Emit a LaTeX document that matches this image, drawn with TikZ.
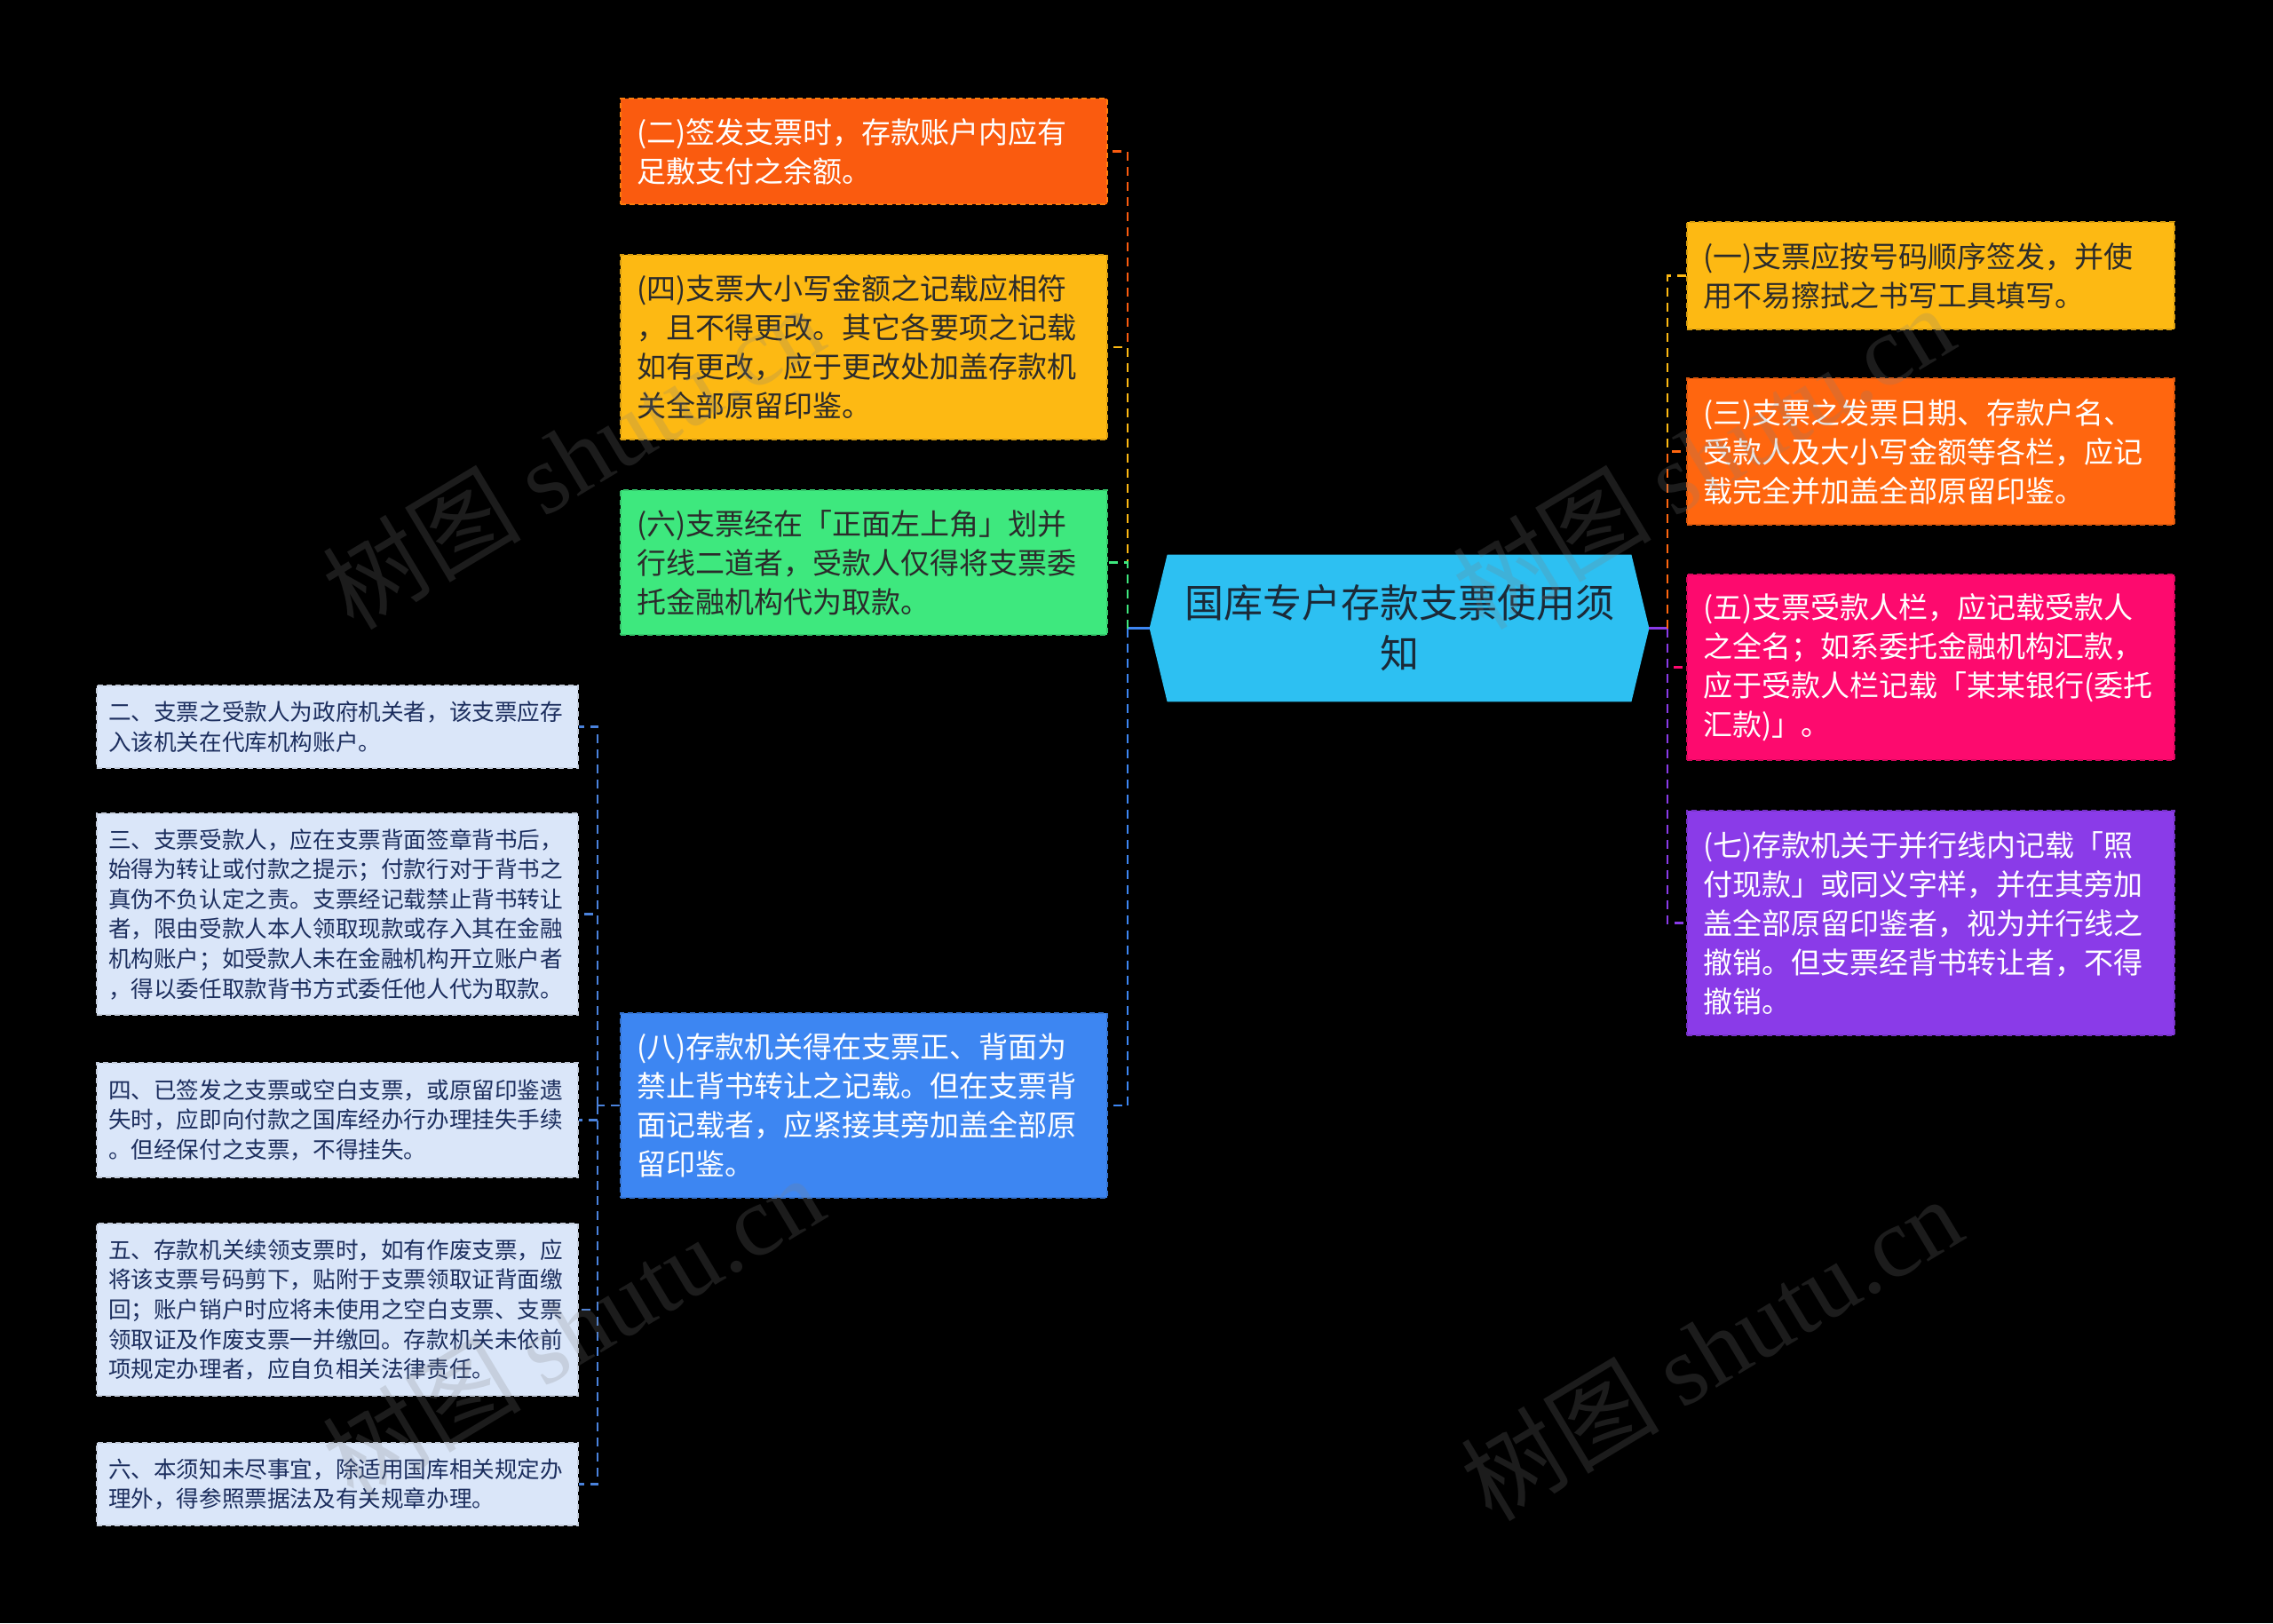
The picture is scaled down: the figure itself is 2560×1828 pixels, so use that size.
\documentclass[tikz,border=0pt]{standalone}
\usepackage{fontspec}
\setmainfont{Noto Sans CJK SC}
\newfontfamily\wmserif{Liberation Serif}
\usetikzlibrary{backgrounds}

\definecolor{cRed}{HTML}{FA5B0F}
\definecolor{cAmber}{HTML}{FDB913}
\definecolor{cGreen}{HTML}{3EE87E}
\definecolor{cBlue}{HTML}{3D86F2}
\definecolor{cRoot}{HTML}{2DC0F2}
\definecolor{cOrange}{HTML}{FF660F}
\definecolor{cPink}{HTML}{FD0A6E}
\definecolor{cPurple}{HTML}{8A3BE8}
\definecolor{cSmall}{HTML}{DAE6F9}
\definecolor{cSmallText}{HTML}{1C2E5E}
\definecolor{cDark}{HTML}{2B2B2B}
\definecolor{cRootText}{HTML}{1B2A38}
\definecolor{cLinkBlue}{HTML}{4A82DC}

\tikzset{
  basebox/.style={rectangle, draw, dash pattern=on 3pt off 2pt, line width=0.6pt,
    anchor=center, align=left, inner ysep=0pt},
  midbox/.style={basebox, text width=256pt, inner xsep=9pt,
    font=\fontsize{16.5}{22}\selectfont},
  rbox/.style={basebox, text width=256.5pt, inner xsep=9pt,
    font=\fontsize{16.5}{22}\selectfont},
  smallbox/.style={basebox, fill=cSmall, draw=cSmall!75!gray, text=cSmallText,
    text width=258pt, inner xsep=6.5pt, font=\fontsize{12.8}{16.8}\selectfont},
  link/.style={dash pattern=on 5pt off 3.5pt, line width=1.2pt},
  trunk/.style={line width=1.6pt},
  wm/.style={text=gray, text opacity=0.22, font=\fontsize{56}{60}\selectfont, anchor=center},
}

\begin{document}
\begin{tikzpicture}[x=0.5pt,y=-0.5pt]
\useasboundingbox (0,0) rectangle (2560,1828);

% ---------- root ----------
\node[minimum width=261pt, minimum height=82.5pt, inner sep=0pt, align=center,
  text=cRootText, font=\fontsize{22}{28.5}\selectfont] (root) at (1576,707.5)
  {国库专户存款支票使用须\\知};
\coordinate (rootW) at ([xshift=-10pt]root.west);
\coordinate (rootE) at ([xshift=10pt]root.east);
\coordinate (Lj) at (1270,707.5);
\coordinate (Rj) at (1878,707.5);

% ---------- middle-left column ----------
\node[midbox, fill=cRed, draw=cRed!80!yellow, text=white, minimum height=59.5pt] (n2) at (973,170.5)
  {(二)签发支票时，存款账户内应有\\足敷支付之余额。};
\node[midbox, fill=cAmber, draw=cAmber!85!black, text=cDark, minimum height=104pt] (n4) at (973,391)
  {(四)支票大小写金额之记载应相符\\，且不得更改。其它各要项之记载\\如有更改，应于更改处加盖存款机\\关全部原留印鉴。};
\node[midbox, fill=cGreen, draw=cGreen!85!black, text=cDark, minimum height=81.5pt] (n6) at (973,633.5)
  {(六)支票经在「正面左上角」划并\\行线二道者，受款人仅得将支票委\\托金融机构代为取款。};
\node[midbox, fill=cBlue, draw=cBlue!85!black, text=white, minimum height=104pt] (n8) at (973,1245)
  {(八)存款机关得在支票正、背面为\\禁止背书转让之记载。但在支票背\\面记载者，应紧接其旁加盖全部原\\留印鉴。};

% ---------- right column ----------
\node[rbox, fill=cAmber, draw=cAmber!85!black, text=cDark, minimum height=60.5pt] (n1) at (2174.5,310.5)
  {(一)支票应按号码顺序签发，并使\\用不易擦拭之书写工具填写。};
\node[rbox, fill=cOrange, draw=cOrange!85!black, text=white, minimum height=82.5pt] (n3) at (2174.5,508.5)
  {(三)支票之发票日期、存款户名、\\受款人及大小写金额等各栏，应记\\载完全并加盖全部原留印鉴。};
\node[rbox, fill=cPink, draw=cPink!85!black, text=white, minimum height=104.5pt] (n5) at (2174.5,751.5)
  {(五)支票受款人栏，应记载受款人\\之全名；如系委托金融机构汇款，\\应于受款人栏记载「某某银行(委托\\汇款)」。};
\node[rbox, fill=cPurple, draw=cPurple!85!black, text=white, minimum height=126.5pt] (n7) at (2174.5,1039.5)
  {(七)存款机关于并行线内记载「照\\付现款」或同义字样，并在其旁加\\盖全部原留印鉴者，视为并行线之\\撤销。但支票经背书转让者，不得\\撤销。};

% ---------- far-left small column ----------
\node[smallbox, minimum height=46.5pt] (s2) at (380,818.5)
  {二、支票之受款人为政府机关者，该支票应存\\入该机关在代库机构账户。};
\node[smallbox, minimum height=113.5pt] (s3) at (380,1029.5)
  {三、支票受款人，应在支票背面签章背书后，\\始得为转让或付款之提示；付款行对于背书之\\真伪不负认定之责。支票经记载禁止背书转让\\者，限由受款人本人领取现款或存入其在金融\\机构账户；如受款人未在金融机构开立账户者\\，得以委任取款背书方式委任他人代为取款。};
\node[smallbox, minimum height=64.5pt] (s4) at (380,1261.5)
  {四、已签发之支票或空白支票，或原留印鉴遗\\失时，应即向付款之国库经办行办理挂失手续\\。但经保付之支票，不得挂失。};
\node[smallbox, minimum height=97pt] (s5) at (380,1475)
  {五、存款机关续领支票时，如有作废支票，应\\将该支票号码剪下，贴附于支票领取证背面缴\\回；账户销户时应将未使用之空白支票、支票\\领取证及作废支票一并缴回。存款机关未依前\\项规定办理者，应自负相关法律责任。};
\node[smallbox, minimum height=46.5pt] (s6) at (380,1671.5)
  {六、本须知未尽事宜，除适用国库相关规定办\\理外，得参照票据法及有关规章办理。};
\coordinate (Sj) at (673,1245);

% ---------- background + root shape ----------
\begin{scope}[on background layer]
  \fill[black] (0,0) rectangle (2560,1828);
  \fill[cRoot] (rootW) -- (root.north west) -- (root.north east) -- (rootE)
     -- (root.south east) -- (root.south west) -- cycle;
\end{scope}

% ---------- connectors ----------
\draw[trunk, cBlue] (rootW) -- (Lj);
\draw[trunk, cPurple] (rootE) -- (Rj);

\draw[link, cBlue] (Lj) |- (n8.east);
\draw[link, cRed] (Lj) |- (n2.east);
\draw[link, cAmber] (Lj) |- (n4.east);
\draw[link, cGreen] (Lj) |- (n6.east);

\draw[link, cAmber] (Rj) |- (n1.west);
\draw[link, cOrange] (Rj) |- (n3.west);
\draw[link, cPink] (Rj) |- (n5.west);
\draw[link, cPurple] (Rj) |- (n7.west);

\draw[link, cLinkBlue] (n8.west) -- (Sj);
\foreach \s in {s2,s3,s4,s5,s6}
  \draw[link, cLinkBlue] (Sj) |- (\s.east);

% ---------- watermarks ----------
\node[wm, rotate=31] (wm1) at (645,514) {树图 {\wmserif shutu.cn}};
\node[wm, rotate=31] (wm2) at (1918,514) {树图 {\wmserif shutu.cn}};
\node[wm, rotate=31] (wm3) at (645,1494) {树图 {\wmserif shutu.cn}};
\node[wm, rotate=31] (wm4) at (1927,1518) {树图 {\wmserif shutu.cn}};
\end{tikzpicture}
\end{document}
